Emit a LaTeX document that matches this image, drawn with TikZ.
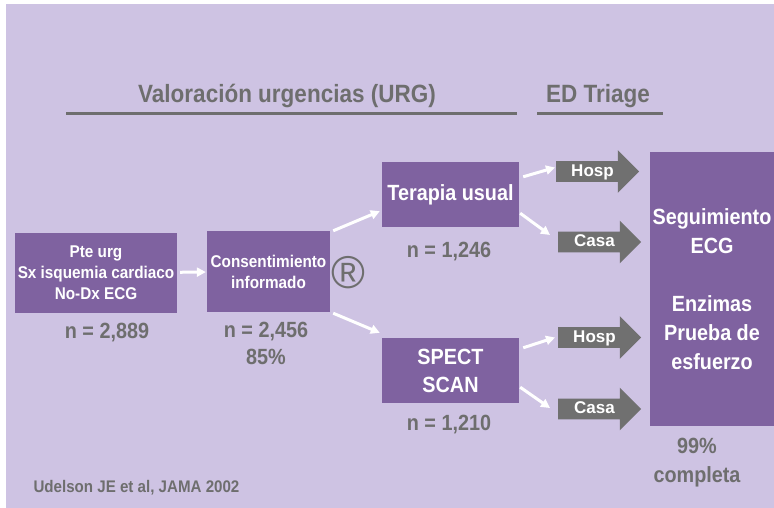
\documentclass[tikz,border=0pt]{standalone}
\usepackage{fontspec}
\setmainfont{Liberation Sans Bold}[FakeStretch=0.9]
\newfontfamily\fina{Liberation Sans}
\newfontfamily\ancha{Liberation Sans Bold}
\usetikzlibrary{positioning,shapes.arrows,arrows.meta}
\definecolor{fondo}{HTML}{CEC3E3}
\definecolor{morado}{HTML}{7F62A0}
\definecolor{gristxt}{HTML}{6E6E6E}
\definecolor{grisflecha}{HTML}{707070}
\begin{document}
\begin{tikzpicture}[x=1pt,y=-1pt,
  caja/.style={fill=morado,text=white,align=center,inner sep=0pt},
  cifra/.style={text=gristxt,align=center,font=\fontsize{22}{27}\selectfont},
  titulo/.style={text=gristxt,font=\fontsize{25}{29}\selectfont},
  flecha/.style={single arrow,fill=grisflecha,text=white,anchor=tail,
    minimum height=83pt,minimum width=42pt,single arrow head extend=11pt,
    text height=12.5pt,text depth=3pt,inner ysep=2.5pt,inner xsep=4pt,
    font=\ancha\fontsize{17}{19}\selectfont},
  blanca/.style={draw=white,line width=3pt,-{Triangle[length=9pt,width=9pt]}}]
  \useasboundingbox (0,0) rectangle (774,508);
  \fill[fondo] (6,4) rectangle (774,508);
  % encabezados
  \node[titulo] (urg) at (287,96) {Valoración urgencias (URG)};
  \node[titulo] (triage) at (598,96) {ED Triage};
  \draw[gristxt,line width=3pt] (66,114) -- (517,114);
  \draw[gristxt,line width=3pt] (537,114) -- (663,114);
  % cajas
  \node[caja,minimum width=162pt,minimum height=80pt,font=\fontsize{17}{21}\selectfont] (pte) at (96,273) {Pte urg\\Sx isquemia cardiaco\\No-Dx ECG};
  \node[caja,minimum width=123pt,minimum height=81pt,font=\fontsize{17}{21}\selectfont] (cons) at (268.5,271.5) {Consentimiento\\informado};
  \node[caja,minimum width=137pt,minimum height=65pt,font=\fontsize{22}{28}\selectfont] (ter) at (450.5,194.5) {Terapia usual};
  \node[caja,minimum width=137pt,minimum height=65pt,font=\fontsize{22}{28}\selectfont] (spect) at (450.5,370.5) {SPECT\\SCAN};
  \node[caja,minimum width=124pt,minimum height=274pt,font=\fontsize{22}{29}\selectfont] (seg) at (712,289) {Seguimiento\\ECG\\[29pt]Enzimas\\Prueba de\\esfuerzo};
  \node[text=gristxt,font=\fina\fontsize{46}{46}\selectfont] (reg) at (348,273) {®};
  % flechas grises
  \node[flecha] (hosp1) at (556,171.5) {Hosp};
  \node[flecha] (casa1) at (558,242) {Casa};
  \node[flecha] (hosp2) at (558,337.5) {Hosp};
  \node[flecha] (casa2) at (558,409) {Casa};
  % cifras
  \node[cifra] (n1) at (107,333) {n = 2,889};
  \node[cifra] (n2) at (266,343) {n = 2,456\\85\%};
  \node[cifra] (n3) at (449,252) {n = 1,246};
  \node[cifra] (n4) at (449,425) {n = 1,210};
  \node[cifra,font=\fontsize{22}{29}\selectfont] (compl) at (697,463) {99\%\\completa};
  \node[text=gristxt,anchor=west,font=\fontsize{16.8}{20}\selectfont] (ref) at (30,488) {Udelson JE et al, JAMA 2002};
  % flechas blancas
  \draw[blanca,shorten <=3pt,shorten >=1pt] (pte) -- (cons);
  \draw[blanca] ([shift={(3,0)}]cons.north east) -- ([shift={(-2,-16)}]ter.south west);
  \draw[blanca] ([shift={(3,1)}]cons.south east) -- ([shift={(-2,-5)}]spect.north west);
  \draw[blanca] ([shift={(4,15)}]ter.north east) -- ([shift={(-1,-4)}]hosp1.tail);
  \draw[blanca] ([shift={(1,-14)}]ter.south east) -- ([shift={(-8,-7)}]casa1.tail);
  \draw[blanca] ([shift={(4,10)}]spect.north east) -- ([shift={(-3,0)}]hosp2.tail);
  \draw[blanca] ([shift={(1,-16)}]spect.south east) -- ([shift={(-8,-1)}]casa2.tail);
\end{tikzpicture}
\end{document}
